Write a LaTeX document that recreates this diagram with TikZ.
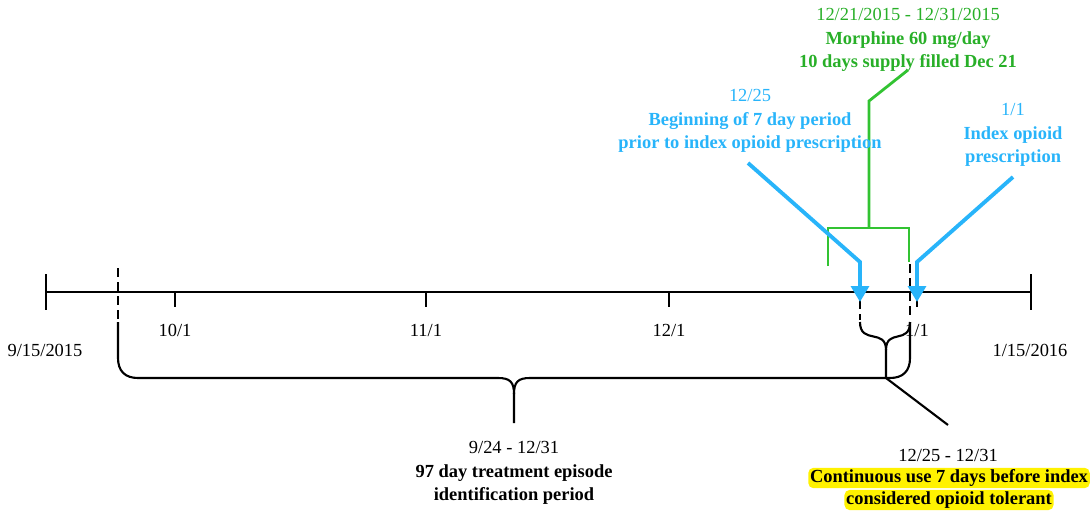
\documentclass[tikz,border=0pt]{standalone}
\usepackage{fontspec}
\setmainfont{Liberation Serif}
\usetikzlibrary{arrows.meta}
\definecolor{bleu}{RGB}{40,180,250}
\definecolor{vert}{RGB}{50,195,50}
\definecolor{vertfonce}{RGB}{40,175,40}

\begin{document}
\begin{tikzpicture}[x=0.02cm,y=-0.02cm]
%styles des textes
\tikzstyle{etiq}=[font=\fontsize{10.5}{13.5}\selectfont,align=center,inner sep=1pt]
\tikzstyle{surligne}=[etiq,fill=yellow,rounded corners=3pt,font=\fontsize{10.5}{13.5}\selectfont\bfseries]
%styles des traits
\tikzstyle{axe}=[line width=1.5pt]
\tikzstyle{pointille}=[line width=1.5pt,dash pattern=on 5pt off 3pt]
\tikzstyle{accolade}=[line width=1.2pt]
\tikzstyle{fleche}=[line width=2.2pt,draw=bleu,-{Triangle[width=10pt,length=9pt]}]
\tikzstyle{crochet}=[line width=1.6pt,draw=vert]
\useasboundingbox (0,0) rectangle (1091,517);
%axe du temps
\coordinate (debut) at (46,292);
\coordinate (fin) at (1031,292);
\draw[axe] (debut) -- (fin);
\draw[axe] (46,274) -- (46,310);
\draw[axe] (1031,274) -- (1031,310);
\foreach \x/\d in {175/{10/1},426/{11/1},669/{12/1},917/{1/1}}{
  \draw[axe] (\x,292) -- (\x,307);
  \node[etiq] at (\x,330) {\d};
}
\node[etiq] (depart) at (45,350) {9/15/2015};
\node[etiq] (arrivee) at (1030,350) {1/15/2016};
%pointilles
\draw[pointille] (118,268) -- (118,320);
\draw[pointille] (860,300) -- (860,320);
\draw[pointille] (910,264) -- (910,320);
%accolades
\coordinate (pic) at (514,394);
\draw[accolade] (118,322) -- (118,358) .. controls (118,371) and (125,378) .. (138,378) -- (498,378) .. controls (510,378) and (514,382) .. (pic) -- (514,423);
\draw[accolade] (910,322) -- (910,358) .. controls (910,371) and (903,378) .. (890,378) -- (530,378) .. controls (518,378) and (514,382) .. (pic);
\coordinate (pointe) at (886,378);
\draw[accolade] (860,322) .. controls (860,345) and (886,328) .. (886,350) -- (pointe);
\draw[accolade] (910,322) .. controls (910,345) and (886,328) .. (886,350);
\node[etiq] (episode) at (514,473) {9/24 - 12/31\\\textbf{97 day treatment episode}\\\textbf{identification period}};
\coordinate (bout) at (948,425);
\draw[accolade] (pointe) -- (bout);
\node[etiq] (periode) at (948,455) {12/25 - 12/31};
\node[surligne] (tolerant1) at (949,478) {Continuous use 7 days before index};
\node[surligne] (tolerant2) at (949,500) {considered opioid tolerant};
%crochet vert
\node[etiq,text=vertfonce] (morphine) at (908,40) {12/21/2015 - 12/31/2015\\\textbf{Morphine 60 mg/day}\\\textbf{10 days supply filled Dec 21}};
\coordinate (haut) at (908,70);
\coordinate (coude) at (869,101);
\coordinate (milieu) at (869,228);
\draw[crochet] (haut) -- (coude) -- (milieu);
\draw[crochet] (828,266) -- (828,228) -- (909,228) -- (909,262);
%fleches bleues
\node[etiq,text=bleu] (veille) at (750,121) {12/25\\\textbf{Beginning of 7 day period}\\\textbf{prior to index opioid prescription}};
\node[etiq,text=bleu] (index) at (1013,135) {1/1\\\textbf{Index opioid}\\\textbf{prescription}};
\coordinate (d1) at (748,163);
\coordinate (c1) at (860,262);
\coordinate (a1) at (860,302);
\coordinate (d2) at (1013,177);
\coordinate (c2) at (917,262);
\coordinate (a2) at (917,302);
\draw[fleche] (d1) -- (c1) -- (a1);
\draw[fleche] (d2) -- (c2) -- (a2);
\end{tikzpicture}
\end{document}
